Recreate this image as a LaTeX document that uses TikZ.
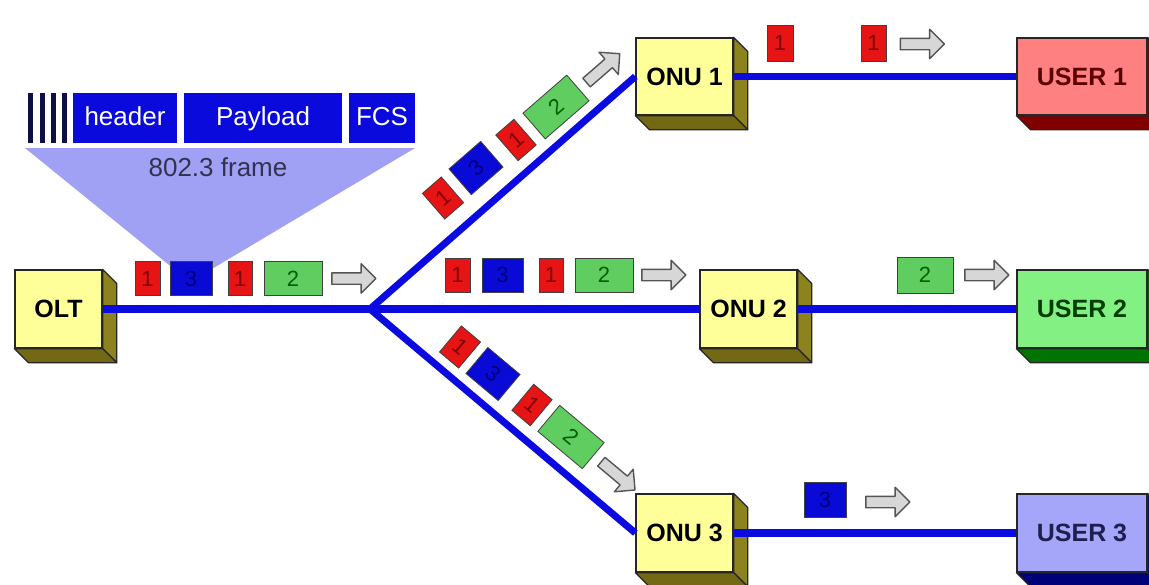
\documentclass[tikz,border=0pt]{standalone}
\usepackage{fontspec}
\setmainfont{Liberation Sans}
\usetikzlibrary{shapes.arrows}
\definecolor{fiber}{RGB}{10,10,225}
\definecolor{pktred}{RGB}{230,20,20}
\definecolor{pktredtxt}{RGB}{130,0,0}
\definecolor{pktblue}{RGB}{10,10,215}
\definecolor{pktbluetxt}{RGB}{0,0,120}
\definecolor{pktgreen}{RGB}{95,205,95}
\definecolor{pktgreentxt}{RGB}{0,95,0}
\definecolor{arrowfill}{RGB}{215,215,215}
\definecolor{arrowdraw}{RGB}{85,85,85}
\definecolor{fieldblue}{RGB}{10,10,220}
\definecolor{barcol}{RGB}{15,15,70}
\definecolor{frametri}{RGB}{160,160,245}
\definecolor{frametxt}{RGB}{50,50,80}
\definecolor{yface}{RGB}{255,255,153}
\definecolor{yside}{RGB}{140,130,30}
\definecolor{ybottom}{RGB}{115,105,20}
\definecolor{rface}{RGB}{255,128,128}
\definecolor{rside}{RGB}{128,0,0}
\definecolor{rtxt}{RGB}{90,0,0}
\definecolor{gface}{RGB}{130,240,130}
\definecolor{gside}{RGB}{0,115,0}
\definecolor{gtxt}{RGB}{0,60,0}
\definecolor{bface}{RGB}{165,165,250}
\definecolor{bside}{RGB}{0,0,120}
\definecolor{btxt}{RGB}{30,30,80}
\newcommand\extrude[3]{%
  \filldraw[fill=#2, draw=black!85, line width=1.3pt, line join=round]
    (#1.north east) -- ++(14,14) -- ([shift={(14,14)}]#1.south east) -- (#1.south east) -- cycle;
  \filldraw[fill=#3, draw=black!85, line width=1.3pt, line join=round]
    (#1.south west) -- ++(14,14) -- ([shift={(14,14)}]#1.south east) -- (#1.south east) -- cycle;}
\newcommand\shaft{\rule{0pt}{10pt}}
\begin{document}
\begin{tikzpicture}[x=1pt,y=-1pt,
  fiberline/.style={draw=fiber, line width=7.5pt},
  devbox/.style={draw=black!85, line width=1.3pt, inner sep=0pt, font=\fontsize{25}{28}\selectfont\bfseries},
  pkt/.style={draw=black!75, line width=0.8pt, inner sep=0pt, minimum height=34pt, font=\fontsize{22}{24}\selectfont},
  redpkt/.style={pkt, fill=pktred, text=pktredtxt, minimum width=25pt},
  bluepkt/.style={pkt, fill=pktblue, text=pktbluetxt, minimum width=42pt},
  greenpkt/.style={pkt, fill=pktgreen, text=pktgreentxt, minimum width=58pt},
  garrow/.style={single arrow, draw=arrowdraw, fill=arrowfill, line width=1.4pt, line join=round, minimum height=44pt, single arrow head extend=9pt, inner sep=0pt},
  fieldbox/.style={fill=fieldblue, text=white, inner sep=0pt, minimum height=50pt, text height=19pt, text depth=5pt, font=\fontsize{26}{28}\selectfont}
]
\path[use as bounding box] (0,0) rectangle (1149,584);
\clip (0,0) rectangle (1149,584);
\fill[white] (0,0) rectangle (1149,584);

% 802.3 frame
\fill[frametri] (25,148) -- (415,148) -- (190,282) -- cycle;
\foreach \bx in {28,39.5,51,62}
  \fill[barcol] (\bx,93) rectangle ++(5,50);
\node[fieldbox, minimum width=104pt] (hdr) at (125,118) {header};
\node[fieldbox, minimum width=158pt] (pay) at (263,118) {Payload};
\node[fieldbox, minimum width=66pt] (fcs) at (382,118) {FCS};
\node[text=frametxt, font=\fontsize{26}{28}\selectfont] (flabel) at (218,167) {802.3 frame};

% devices
\node[devbox, fill=yface, minimum width=87pt, minimum height=78pt] (olt) at (58.5,309) {OLT};
\node[devbox, fill=yface, minimum width=97pt, minimum height=77pt] (onu1) at (684.5,76.5) {ONU 1};
\node[devbox, fill=yface, minimum width=97pt, minimum height=78pt] (onu2) at (748.5,309) {ONU 2};
\node[devbox, fill=yface, minimum width=97pt, minimum height=78pt] (onu3) at (684.5,533) {ONU 3};
\node[devbox, fill=rface, text=rtxt, minimum width=130pt, minimum height=77pt] (user1) at (1082,76.5) {USER 1};
\node[devbox, fill=gface, text=gtxt, minimum width=130pt, minimum height=78pt] (user2) at (1082,309) {USER 2};
\node[devbox, fill=bface, text=btxt, minimum width=130pt, minimum height=78pt] (user3) at (1082,533) {USER 3};
\extrude{olt}{yside}{ybottom}
\extrude{onu1}{yside}{ybottom}
\extrude{onu2}{yside}{ybottom}
\extrude{onu3}{yside}{ybottom}
\extrude{user1}{rside}{rside}
\extrude{user2}{gside}{gside}
\extrude{user3}{bside}{bside}

% fibres
\coordinate (split) at (370,309);
\draw[fiberline] (olt.east) -- (split);
\draw[fiberline, line width=7pt] (split) -- (onu1.west);
\draw[fiberline] (split) -- (onu2.west);
\draw[fiberline, line width=7pt] (split) -- (onu3.west);
\draw[fiberline] (onu1.east) -- (user1.west);
\draw[fiberline] (onu2.east) -- (user2.west);
\draw[fiberline] (onu3.east) -- (user3.west);

% packets on trunk
\node[redpkt] (t1) at (147.5,278.5) {1};
\node[bluepkt] (t2) at (191,278.5) {3};
\node[redpkt, minimum width=24pt] (t3) at (240,278.5) {1};
\node[greenpkt] (t4) at (293,278.5) {2};
\node[garrow] (ta) at (351,278.5) {\shaft};

% packets on upper branch
\node[redpkt, rotate=41] (u1) at (443,198) {1};
\node[bluepkt, rotate=41] (u2) at (476,168) {3};
\node[redpkt, minimum width=24pt, rotate=41] (u3) at (516,140) {1};
\node[greenpkt, rotate=41] (u4) at (556,107) {2};
\node[garrow, rotate=41] (ua) at (601,70) {\shaft};

% packets on middle branch
\node[redpkt] (m1) at (457.5,275) {1};
\node[bluepkt, minimum width=41pt] (m2) at (502.5,275) {3};
\node[redpkt, minimum width=24pt] (m3) at (551,275) {1};
\node[greenpkt] (m4) at (604,275) {2};
\node[garrow] (ma) at (661,275) {\shaft};

% packets on lower branch
\node[redpkt, rotate=-40] (l1) at (460,347) {1};
\node[bluepkt, rotate=-40] (l2) at (493,374) {3};
\node[redpkt, minimum width=24pt, rotate=-40] (l3) at (532,405) {1};
\node[greenpkt, rotate=-40] (l4) at (571,437) {2};
\node[garrow, rotate=-40] (la) at (616,474) {\shaft};

% packets towards users
\node[redpkt, minimum width=26pt, minimum height=36pt] (r1) at (780,43) {1};
\node[redpkt, minimum width=25pt, minimum height=36pt] (r2) at (873.5,43) {1};
\node[garrow] (ra) at (919.5,44) {\shaft};
\node[greenpkt, minimum width=56pt, minimum height=36pt] (g1) at (925,275) {2};
\node[garrow] (ga) at (984,275) {\shaft};
\node[bluepkt, minimum height=35pt] (b1) at (825,499.5) {3};
\node[garrow] (ba) at (885,502) {\shaft};
\end{tikzpicture}
\end{document}
